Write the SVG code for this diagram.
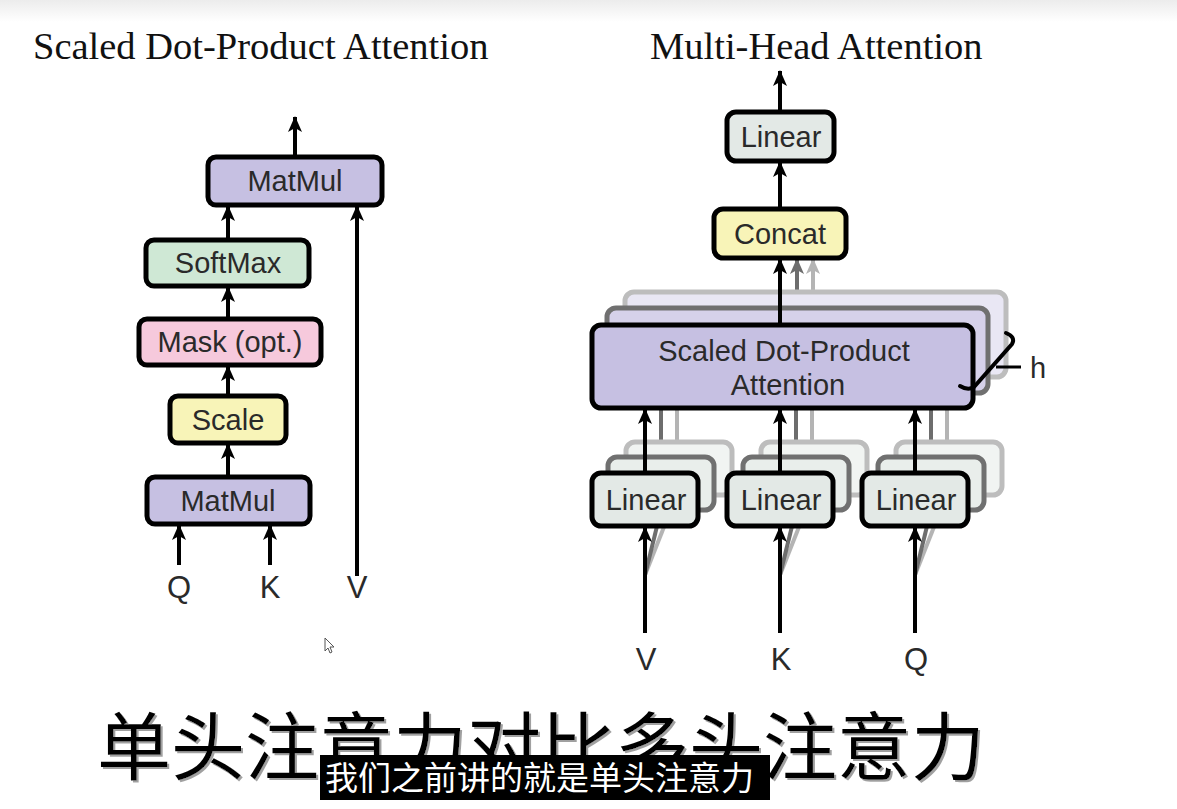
<svg xmlns="http://www.w3.org/2000/svg" width="1177" height="809" viewBox="0 0 1177 809">
<defs>
<linearGradient id="topband" x1="0" y1="0" x2="0" y2="1">
<stop offset="0" stop-color="#ececec"/>
<stop offset="1" stop-color="#ffffff"/>
</linearGradient>
<filter id="shadow" x="-5%" y="-20%" width="110%" height="140%">
<feDropShadow dx="2" dy="2" stdDeviation="0.6" flood-color="#a0a0a0" flood-opacity="1"/>
</filter>
<marker id="ah" markerUnits="userSpaceOnUse" viewBox="0 -7 16 14" refX="15" refY="0" markerWidth="16" markerHeight="14" orient="auto">
<path d="M0,-7 L16,0 L0,7 L4,0 Z" fill="#000"/>
</marker>
<marker id="ahg" markerUnits="userSpaceOnUse" viewBox="0 -7 16 14" refX="15" refY="0" markerWidth="16" markerHeight="14" orient="auto">
<path d="M0,-7 L16,0 L0,7 L4,0 Z" fill="#6d6d6d"/>
</marker>
<marker id="ahl" markerUnits="userSpaceOnUse" viewBox="0 -7 16 14" refX="15" refY="0" markerWidth="16" markerHeight="14" orient="auto">
<path d="M0,-7 L16,0 L0,7 L4,0 Z" fill="#b4b4b4"/>
</marker>
</defs>
<style>
.box{stroke:#000;stroke-width:5}
.box2{stroke:#707070;stroke-width:5}
.box3{stroke:#bdbdbd;stroke-width:5}
.lbl{font-family:"Liberation Sans","DejaVu Sans",Arial,sans-serif;font-size:29px;fill:#2a2a2a;text-anchor:middle}
.io{font-family:"Liberation Sans","DejaVu Sans",Arial,sans-serif;font-size:31px;fill:#2a2a2a;text-anchor:middle}
.ttl{font-family:"Liberation Serif","Times New Roman",serif;font-size:38.5px;fill:#111}
.ln{stroke:#000;stroke-width:4;fill:none}
.lng{stroke:#6d6d6d;stroke-width:4;fill:none}
.lnl{stroke:#b4b4b4;stroke-width:4;fill:none}
.arr{marker-end:url(#ah)}
.arrg{marker-end:url(#ahg)}
.arrl{marker-end:url(#ahl)}
.lav{fill:#c6c0e2}
.grn{fill:#cfe8d5}
.pnk{fill:#f6c9dc}
.yel{fill:#f8f4b8}
.gry{fill:#e3e9e6}
.cjk{font-family:"Noto Sans CJK SC","Noto Sans CJK JP",sans-serif}
</style>
<rect x="0" y="0" width="1177" height="809" fill="#fff"/>
<rect x="0" y="0" width="1177" height="22" fill="url(#topband)"/>

<!-- titles -->
<text class="ttl" x="33" y="59">Scaled Dot-Product Attention</text>
<text class="ttl" x="650" y="59">Multi-Head Attention</text>

<!-- LEFT connectors -->
<g id="left-connectors">
<line class="ln arr" x1="295" y1="157" x2="295" y2="117"/>
<line class="ln arr" x1="228" y1="240" x2="228" y2="206"/>
<line class="ln arr" x1="228" y1="319" x2="228" y2="287"/>
<line class="ln arr" x1="228" y1="396" x2="228" y2="366"/>
<line class="ln arr" x1="228" y1="477" x2="228" y2="444"/>
<line class="ln arr" x1="179" y1="565" x2="179" y2="525"/>
<line class="ln arr" x1="270" y1="565" x2="270" y2="525"/>
<line class="ln arr" x1="357" y1="576" x2="357" y2="206"/>
</g>

<!-- LEFT nodes -->
<g id="matmul-top"><rect class="box lav" x="208" y="157" width="174" height="48" rx="8"/><text class="lbl" x="295" y="191">MatMul</text></g>
<g id="softmax"><rect class="box grn" x="146" y="240" width="163" height="46" rx="8"/><text class="lbl" x="228" y="273">SoftMax</text></g>
<g id="mask"><rect class="box pnk" x="139" y="319" width="182" height="46" rx="8"/><text class="lbl" x="230" y="352">Mask (opt.)</text></g>
<g id="scale"><rect class="box yel" x="170" y="396" width="116" height="47" rx="8"/><text class="lbl" x="228" y="430">Scale</text></g>
<g id="matmul-bottom"><rect class="box lav" x="147" y="477" width="163" height="47" rx="8"/><text class="lbl" x="228" y="511">MatMul</text></g>
<g id="left-inputs">
<text class="io" x="179" y="598">Q</text>
<text class="io" x="270" y="598">K</text>
<text class="io" x="357" y="598">V</text>
</g>

<!-- RIGHT connectors (back layers) -->
<g id="right-connectors">
<line class="lnl arrl" x1="813" y1="292" x2="813" y2="259"/>
<line class="lng arrg" x1="797" y1="308" x2="797" y2="259"/>
<line class="lnl" x1="645" y1="575" x2="677" y2="494"/>
<line class="lng" x1="645" y1="575" x2="661" y2="510"/>
<line class="lnl" x1="780" y1="575" x2="812" y2="494"/>
<line class="lng" x1="780" y1="575" x2="796" y2="510"/>
<line class="lnl" x1="915" y1="575" x2="947" y2="494"/>
<line class="lng" x1="915" y1="575" x2="931" y2="510"/>
<line class="lnl" x1="677" y1="442" x2="677" y2="377"/>
<line class="lnl" x1="812" y1="442" x2="812" y2="377"/>
<line class="lnl" x1="947" y1="442" x2="947" y2="377"/>
<line class="lng" x1="661" y1="457" x2="661" y2="393"/>
<line class="lng" x1="796" y1="457" x2="796" y2="393"/>
<line class="lng" x1="931" y1="457" x2="931" y2="393"/>
</g>

<!-- stacked SDPA back boxes -->
<g id="sdpa-stack">
<rect class="box3" x="625" y="292" width="381" height="85" rx="9" fill="#e9e7f4"/>
<rect class="box2" x="607" y="308" width="381" height="85" rx="9" fill="#d6d1ea"/>
</g>

<!-- stacked Linear back boxes -->
<g id="linear-stack">
<rect class="box3" x="626" y="442" width="106" height="53" rx="9" fill="#f1f4f2"/>
<rect class="box2" x="608" y="457" width="106" height="53" rx="9" fill="#e9eeeb"/>
<rect class="box3" x="761" y="442" width="106" height="53" rx="9" fill="#f1f4f2"/>
<rect class="box2" x="743" y="457" width="106" height="53" rx="9" fill="#e9eeeb"/>
<rect class="box3" x="896" y="442" width="106" height="53" rx="9" fill="#f1f4f2"/>
<rect class="box2" x="878" y="457" width="106" height="53" rx="9" fill="#e9eeeb"/>
</g>

<!-- RIGHT front connectors -->
<g id="right-front-connectors">
<line class="ln arr" x1="780" y1="112" x2="780" y2="71"/>
<line class="ln arr" x1="780" y1="209" x2="780" y2="162"/>
<line class="ln arr" x1="780" y1="325" x2="780" y2="259"/>
<line class="ln arr" x1="645" y1="473" x2="645" y2="409"/>
<line class="ln arr" x1="780" y1="473" x2="780" y2="409"/>
<line class="ln arr" x1="915" y1="473" x2="915" y2="409"/>
<line class="ln arr" x1="645" y1="633" x2="645" y2="527"/>
<line class="ln arr" x1="780" y1="633" x2="780" y2="527"/>
<line class="ln arr" x1="915" y1="633" x2="915" y2="527"/>
</g>

<!-- RIGHT nodes -->
<g id="linear-out"><rect class="box gry" x="727" y="112" width="107" height="49" rx="9"/><text class="lbl" x="781" y="147">Linear</text></g>
<g id="concat"><rect class="box yel" x="714" y="209" width="132" height="49" rx="9"/><text class="lbl" x="780" y="244">Concat</text></g>
<g id="sdpa">
<rect class="box lav" x="592" y="325" width="381" height="83" rx="9"/>
<text class="lbl" x="784" y="361">Scaled Dot-Product</text>
<text class="lbl" x="788" y="395">Attention</text>
</g>
<g id="h-bracket">
<path d="M1006,333 Q1016,337 1012,344 L974,387 Q968,391 960,386" fill="none" stroke="#000" stroke-width="4" stroke-linecap="round"/>
<line x1="996" y1="367" x2="1021" y2="367" stroke="#000" stroke-width="3"/>
<text class="lbl" x="1038" y="378">h</text>
</g>
<g id="linear-v"><rect class="box gry" x="592" y="473" width="106" height="53" rx="9"/><text class="lbl" x="646" y="510">Linear</text></g>
<g id="linear-k"><rect class="box gry" x="727" y="473" width="106" height="53" rx="9"/><text class="lbl" x="781" y="510">Linear</text></g>
<g id="linear-q"><rect class="box gry" x="862" y="473" width="106" height="53" rx="9"/><text class="lbl" x="916" y="510">Linear</text></g>
<g id="right-inputs">
<text class="io" x="646" y="670">V</text>
<text class="io" x="781" y="670">K</text>
<text class="io" x="916" y="670">Q</text>
</g>

<!-- cursor -->
<path d="M325,638 L325,651 L328,648 L330,653 L332,652 L330,647 L334,647 Z" fill="#fff" stroke="#555" stroke-width="1"/>

<!-- captions -->
<g id="caption">
<text class="cjk" x="97" y="774" font-size="74" fill="#000" filter="url(#shadow)">单头注意力对比多头注意力</text>
<rect x="320" y="755" width="450" height="45" fill="#000"/>
<text class="cjk" x="325" y="790" font-size="33" fill="#fff">我们之前讲的就是单头注意力</text>
</g>
</svg>
